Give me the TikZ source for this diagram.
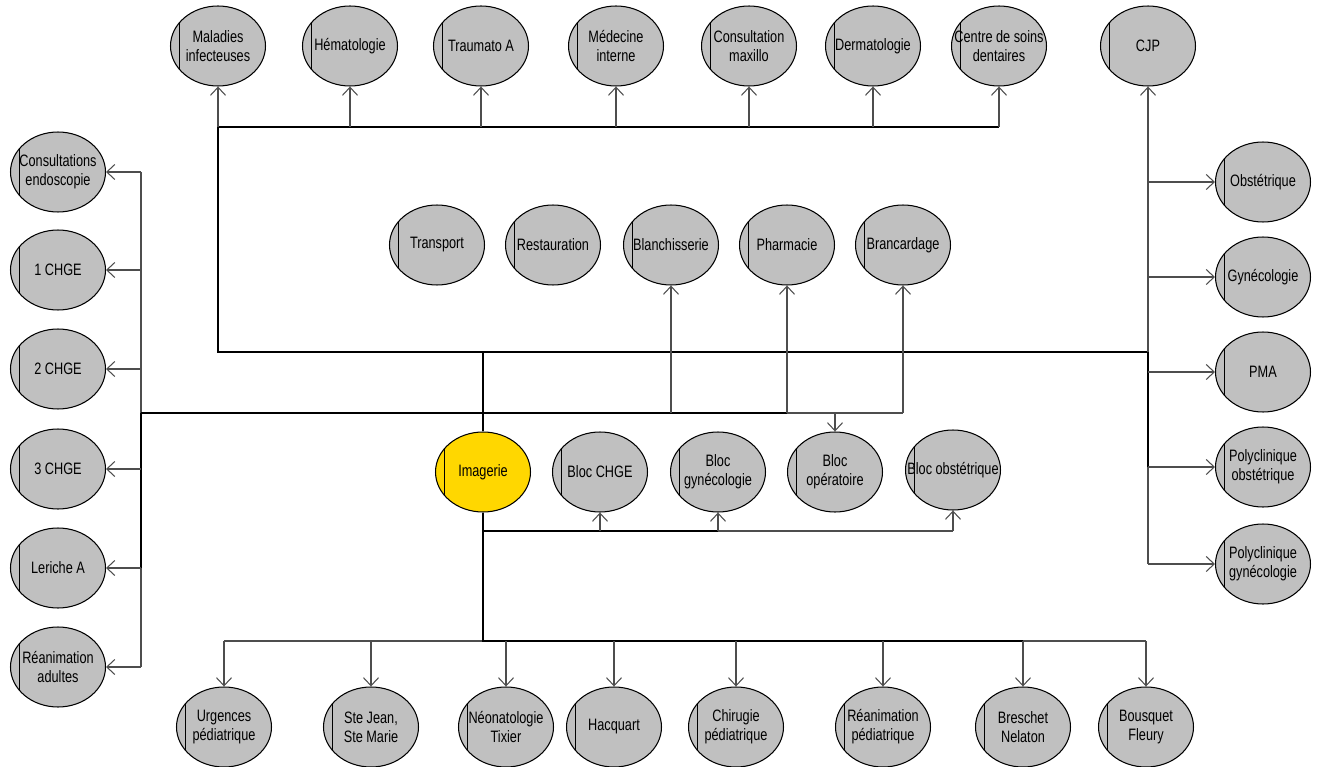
\documentclass[tikz,border=0pt]{standalone}
\usepackage{fontspec}
\setmainfont{Liberation Sans}[FakeStretch=0.77]
\usepackage{xcolor}
\definecolor{planGris}{HTML}{C0C0C0}
\definecolor{planOr}{HTML}{FFD700}
\definecolor{planTrait}{HTML}{4D4D4D}
\usetikzlibrary{arrows.meta, shapes.geometric}
\tikzset{
  %% ── Services ─────────────────────────────────────────────────────────
  %% One ellipse per service, with the thin bar near its left edge; the
  %% text may run past the ellipse, as in the original plan.
  service/.style       = {ellipse, draw=black, line width=0.6pt, fill=planGris,
                          minimum width=1.9cm, minimum height=1.6cm,
                          inner xsep=-0.5cm, inner ysep=0pt, align=center,
                          path picture={\draw[line width=0.6pt]
                            ([xshift=0.18cm]path picture bounding box.north west) --
                            ([xshift=0.18cm]path picture bounding box.south west);}},
  serviceCentre/.style = {service, fill=planOr},
  %%
  %% ── Lines ────────────────────────────────────────────────────────────
  %% The trunk is heavy and black, the branches thin and grey.
  tronc/.style         = {draw=black, line width=1.1pt},
  lien/.style          = {draw=planTrait, line width=0.6pt},
  fleche/.style        = {lien, -{Straight Barb[length=1.6mm, width=3mm]}},
}

\begin{document}
\begin{tikzpicture}[x=0.02cm, y=-0.02cm, font=\fontsize{9.4}{10.8}\selectfont]
\useasboundingbox (0,0) rectangle (1323,767);

% top row
\begin{scope}[every node/.append style={minimum height=1.68cm}]
\node[service] (mal)  at (218, 46) {Maladies\\infecteuses};
\node[service] (hem)  at (350, 46) {Hématologie};
\node[service] (trA)  at (481, 46) {Traumato A};
\node[service] (medi) at (616, 46) {Médecine\\interne};
\node[service] (cmax) at (749, 46) {Consultation\\maxillo};
\node[service] (derm) at (873, 46) {Dermatologie};
\node[service] (csd)  at (999, 46) {Centre de soins\\dentaires};
\node[service] (cjp)  at (1148, 46) {CJP};
\end{scope}

% left column
\node[service] (endo)  at (58, 172) {Consultations\\endoscopie};
\node[service] (chge1) at (58, 270) {1 CHGE};
\node[service] (chge2) at (58, 369) {2 CHGE};
\node[service] (chge3) at (58, 469) {3 CHGE};
\node[service] (ler)   at (58, 568) {Leriche A};
\node[service] (rea)   at (58, 667) {Réanimation\\adultes};

% right column
\node[service] (obs)  at (1263, 182) {Obstétrique};
\node[service] (gyn)  at (1263, 277) {Gynécologie};
\node[service] (pma)  at (1263, 372) {PMA};
\node[service] (pobs) at (1263, 467) {Polyclinique\\obstétrique};
\node[service] (pgyn) at (1263, 564) {Polyclinique\\gynécologie};

% logistics
\begin{scope}[every node/.append style={minimum height=1.72cm}]
\node[service] (tra)  at (437, 245) {Transport};
\node[service] (rest) at (553, 245) {Restauration};
\node[service] (blan) at (671, 245) {Blanchisserie};
\node[service] (phar) at (787, 245) {Pharmacie};
\node[service] (bran) at (903, 245) {Brancardage};
\end{scope}

% imaging and theatres
\node[serviceCentre] (im) at (483, 472) {Imagerie};
\node[service] (bchge) at (600, 472) {Bloc CHGE};
\node[service] (bgyn)  at (718, 472) {Bloc\\gynécologie};
\node[service] (bop)   at (835, 472) {Bloc\\opératoire};
\node[service] (bobs)  at (953, 470) {Bloc obstétrique};

% bottom row
\node[service] (urg)  at (224, 727) {Urgences\\pédiatrique};
\node[service] (stj)  at (371, 727) {Ste Jean,\\Ste Marie};
\node[service] (neo)  at (506, 727) {Néonatologie\\Tixier};
\node[service] (hac)  at (614, 727) {Hacquart};
\node[service] (chir) at (736, 727) {Chirugie\\pédiatrique};
\node[service] (reap) at (883, 727) {Réanimation\\pédiatrique};
\node[service] (bre)  at (1023, 727) {Breschet\\Nelaton};
\node[service] (bou)  at (1146, 727) {Bousquet\\Fleury};

% junctions of the trunk
\coordinate (jA) at (483, 352);
\coordinate (jB) at (483, 413);
\coordinate (jC) at (483, 531);
\coordinate (jD) at (483, 641);
\coordinate (jL) at (141, 413);
\coordinate (jR) at (1148, 352);
\coordinate (jH) at (218, 127);

% thin runs
\draw[lien] (jL |- endo) -- (jL |- rea);
\draw[lien] (jR) -- (jR |- pgyn);
\draw[lien] (phar |- jB) -- (bran |- jB);
\draw[lien] (bgyn |- jC) -- (bobs |- jC);
\draw[lien] (urg |- jD) -- (jD);
\draw[lien] (bre |- jD) -- (bou |- jD);

% trunk
\draw[tronc] (im) -- (jA);
\draw[tronc] (jR) -- (jA -| jH) -- (jH) -- (csd |- jH);
\draw[tronc] (jL) -- (phar |- jB);
\draw[tronc] (jL) -- (jL |- ler);
\draw[tronc] (jR) -- (jR |- pobs);
\draw[tronc] (im) -- (jD) -- (bre |- jD);
\draw[tronc] (jC) -- (bgyn |- jC);

% arrows
\foreach \n in {mal, hem, trA, medi, cmax, derm, csd} \draw[fleche] (\n |- jH) -- (\n);
\draw[fleche] (jR) -- (cjp);
\foreach \n in {endo, chge1, chge2, chge3, ler, rea} \draw[fleche] (jL |- \n) -- (\n);
\foreach \n in {obs, gyn, pma, pobs, pgyn} \draw[fleche] (jR |- \n) -- (\n);
\foreach \n in {blan, phar, bran} \draw[fleche] (\n |- jB) -- (\n);
\draw[fleche] (bop |- jB) -- (bop);
\foreach \n in {bchge, bgyn, bobs} \draw[fleche] (\n |- jC) -- (\n);
\foreach \n in {urg, stj, neo, hac, chir, reap, bre, bou} \draw[fleche] (\n |- jD) -- (\n);

\end{tikzpicture}
\end{document}
